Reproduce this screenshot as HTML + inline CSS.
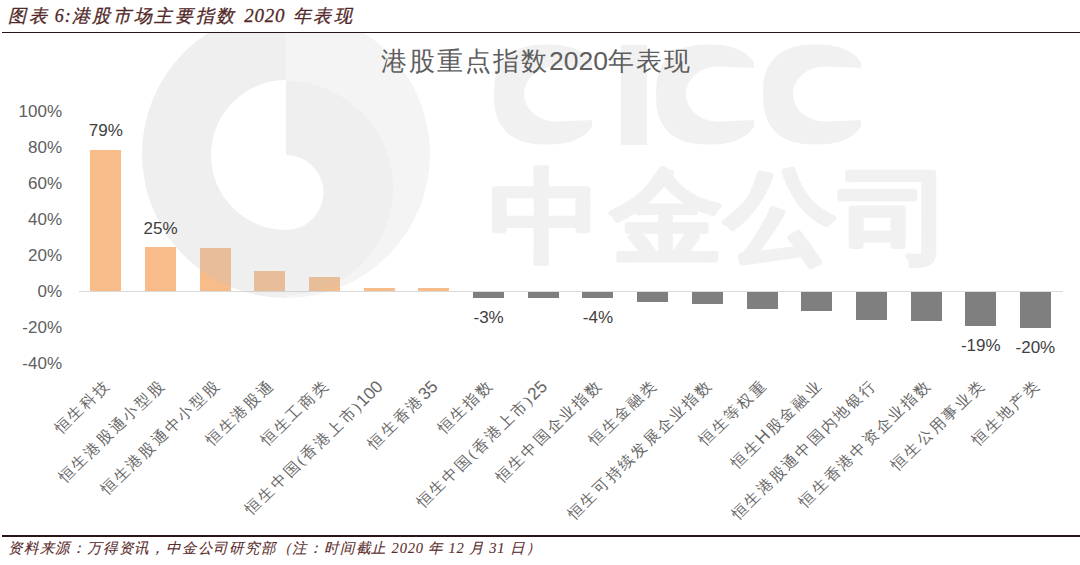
<!DOCTYPE html>
<html><head><meta charset="utf-8"><style>
*{margin:0;padding:0;box-sizing:border-box}
html,body{width:1080px;height:565px;overflow:hidden;background:#fff}
body{position:relative;font-family:"Liberation Sans",sans-serif}
.a{position:absolute;white-space:nowrap}
.ttl{left:8px;top:3px;font-family:"Liberation Serif",serif;font-style:italic;font-weight:400;font-size:18px;line-height:26px;color:#522828;letter-spacing:2.65px;-webkit-text-stroke:0.3px #522828}
.hr{position:absolute;left:2px;right:0;height:1.6px;background:#2a1416}
.ct{left:381px;top:44.4px;font-family:"Liberation Serif",serif;font-size:26px;line-height:34px;color:#5e5e5e;letter-spacing:2px}
.ct span{font-family:"Liberation Sans",sans-serif;font-size:26.5px;letter-spacing:0}
.yl{right:1018px;font-size:17px;line-height:20px;color:#606060;text-align:right}
.bar{position:absolute}
.pos{background:#f7bc8a}
.neg{background:#7f7f7f}
.dl{font-size:17px;line-height:20px;color:#404040;text-align:center;width:60px}
.xl{font-family:"Liberation Serif",serif;font-weight:300;font-size:15.5px;line-height:20px;letter-spacing:2px;color:#666;transform-origin:100% 50%;transform:scaleY(0.96) rotate(-45deg)}
.xl span{font-family:"Liberation Sans",sans-serif;font-size:17.5px;letter-spacing:0;margin-right:2px}
.fn{left:8px;top:537px;font-family:"Liberation Serif",serif;font-style:italic;font-size:14.5px;line-height:22px;color:#5a2c2c;letter-spacing:0.8px;-webkit-text-stroke:0.1px #5a2c2c}
.wm{position:absolute;left:0;top:0;width:1080px;height:565px}
</style></head><body>
<div class="bar" style="left:78.5px;width:984.5px;top:290.7px;height:1.6px;background:#d9d9d9"></div>
<div class="bar pos" style="left:90.34px;width:31px;top:150.02px;height:141.48px"></div>
<div class="bar pos" style="left:145.02px;width:31px;top:247.22px;height:44.28px"></div>
<div class="bar pos" style="left:199.70px;width:31px;top:248.12px;height:43.38px"></div>
<div class="bar pos" style="left:254.38px;width:31px;top:270.98px;height:20.52px"></div>
<div class="bar pos" style="left:309.06px;width:31px;top:277.10px;height:14.40px"></div>
<div class="bar pos" style="left:363.74px;width:31px;top:288.44px;height:3.06px"></div>
<div class="bar pos" style="left:418.42px;width:31px;top:288.44px;height:3.06px"></div>
<div class="bar neg" style="left:473.10px;width:31px;top:292.30px;height:5.64px"></div>
<div class="bar neg" style="left:527.78px;width:31px;top:292.30px;height:5.46px"></div>
<div class="bar neg" style="left:582.46px;width:31px;top:292.30px;height:6.18px"></div>
<div class="bar neg" style="left:637.14px;width:31px;top:292.30px;height:9.96px"></div>
<div class="bar neg" style="left:691.82px;width:31px;top:292.30px;height:11.58px"></div>
<div class="bar neg" style="left:746.50px;width:31px;top:292.30px;height:17.16px"></div>
<div class="bar neg" style="left:801.18px;width:31px;top:292.30px;height:18.24px"></div>
<div class="bar neg" style="left:855.86px;width:31px;top:292.30px;height:28.14px"></div>
<div class="bar neg" style="left:910.54px;width:31px;top:292.30px;height:28.86px"></div>
<div class="bar neg" style="left:965.22px;width:31px;top:292.30px;height:33.72px"></div>
<div class="bar neg" style="left:1019.90px;width:31px;top:292.30px;height:35.52px"></div>
<svg class="wm" width="1080" height="565" viewBox="0 0 1080 565">
<defs><clipPath id="cp"><rect x="0" y="33" width="1080" height="500"/></clipPath>
<mask id="mc" maskUnits="userSpaceOnUse" x="0" y="0" width="1080" height="565"><path d="M600.0 94.5 L599.8 101.6 L599.4 106.8 L598.6 111.5 L597.4 115.7 L596.0 119.6 L594.2 123.2 L592.2 126.6 L589.8 129.6 L587.2 132.4 L584.2 134.9 L581.0 137.1 L577.4 139.1 L573.6 140.7 L569.5 142.1 L565.0 143.1 L560.1 143.9 L554.5 144.3 L547.0 144.5 L539.5 144.3 L533.9 143.9 L529.0 143.1 L524.5 142.1 L520.4 140.7 L516.6 139.1 L513.0 137.1 L509.8 134.9 L506.8 132.4 L504.2 129.6 L501.8 126.6 L499.8 123.2 L498.0 119.6 L496.6 115.7 L495.4 111.5 L494.6 106.8 L494.2 101.6 L494.0 94.5 L494.2 87.4 L494.6 82.2 L495.4 77.5 L496.6 73.3 L498.0 69.4 L499.8 65.8 L501.8 62.4 L504.2 59.4 L506.8 56.6 L509.8 54.1 L513.0 51.9 L516.6 49.9 L520.4 48.3 L524.5 46.9 L529.0 45.9 L533.9 45.1 L539.5 44.7 L547.0 44.5 L554.5 44.7 L560.1 45.1 L565.0 45.9 L569.5 46.9 L573.6 48.3 L577.4 49.9 L581.0 51.9 L584.2 54.1 L587.2 56.6 L589.8 59.4 L592.2 62.4 L594.2 65.8 L596.0 69.4 L597.4 73.3 L598.6 77.5 L599.4 82.2 L599.8 87.4 Z" fill="#fff"/><ellipse cx="556" cy="94" rx="32" ry="27.5" fill="#000"/><path d="M556 66.5 L594 68 L594 120 L556 121.5 Z" fill="#000"/><rect x="592" y="30" width="30" height="130" fill="#000"/><path d="M762.0 94.5 L761.8 101.6 L761.4 106.8 L760.6 111.5 L759.4 115.7 L758.0 119.6 L756.2 123.2 L754.2 126.6 L751.8 129.6 L749.2 132.4 L746.2 134.9 L743.0 137.1 L739.4 139.1 L735.6 140.7 L731.5 142.1 L727.0 143.1 L722.1 143.9 L716.5 144.3 L709.0 144.5 L701.5 144.3 L695.9 143.9 L691.0 143.1 L686.5 142.1 L682.4 140.7 L678.6 139.1 L675.0 137.1 L671.8 134.9 L668.8 132.4 L666.2 129.6 L663.8 126.6 L661.8 123.2 L660.0 119.6 L658.6 115.7 L657.4 111.5 L656.6 106.8 L656.2 101.6 L656.0 94.5 L656.2 87.4 L656.6 82.2 L657.4 77.5 L658.6 73.3 L660.0 69.4 L661.8 65.8 L663.8 62.4 L666.2 59.4 L668.8 56.6 L671.8 54.1 L675.0 51.9 L678.6 49.9 L682.4 48.3 L686.5 46.9 L691.0 45.9 L695.9 45.1 L701.5 44.7 L709.0 44.5 L716.5 44.7 L722.1 45.1 L727.0 45.9 L731.5 46.9 L735.6 48.3 L739.4 49.9 L743.0 51.9 L746.2 54.1 L749.2 56.6 L751.8 59.4 L754.2 62.4 L756.2 65.8 L758.0 69.4 L759.4 73.3 L760.6 77.5 L761.4 82.2 L761.8 87.4 Z" fill="#fff"/><ellipse cx="718" cy="94" rx="32" ry="27.5" fill="#000"/><path d="M718 66.5 L756 68 L756 120 L718 121.5 Z" fill="#000"/><rect x="754" y="30" width="30" height="130" fill="#000"/><path d="M869.0 94.5 L868.8 101.6 L868.4 106.8 L867.6 111.5 L866.4 115.7 L865.0 119.6 L863.2 123.2 L861.2 126.6 L858.8 129.6 L856.2 132.4 L853.2 134.9 L850.0 137.1 L846.4 139.1 L842.6 140.7 L838.5 142.1 L834.0 143.1 L829.1 143.9 L823.5 144.3 L816.0 144.5 L808.5 144.3 L802.9 143.9 L798.0 143.1 L793.5 142.1 L789.4 140.7 L785.6 139.1 L782.0 137.1 L778.8 134.9 L775.8 132.4 L773.2 129.6 L770.8 126.6 L768.8 123.2 L767.0 119.6 L765.6 115.7 L764.4 111.5 L763.6 106.8 L763.2 101.6 L763.0 94.5 L763.2 87.4 L763.6 82.2 L764.4 77.5 L765.6 73.3 L767.0 69.4 L768.8 65.8 L770.8 62.4 L773.2 59.4 L775.8 56.6 L778.8 54.1 L782.0 51.9 L785.6 49.9 L789.4 48.3 L793.5 46.9 L798.0 45.9 L802.9 45.1 L808.5 44.7 L816.0 44.5 L823.5 44.7 L829.1 45.1 L834.0 45.9 L838.5 46.9 L842.6 48.3 L846.4 49.9 L850.0 51.9 L853.2 54.1 L856.2 56.6 L858.8 59.4 L861.2 62.4 L863.2 65.8 L865.0 69.4 L866.4 73.3 L867.6 77.5 L868.4 82.2 L868.8 87.4 Z" fill="#fff"/><ellipse cx="825" cy="94" rx="32" ry="27.5" fill="#000"/><path d="M825 66.5 L863 68 L863 120 L825 121.5 Z" fill="#000"/><rect x="861" y="30" width="30" height="130" fill="#000"/><rect x="621" y="45" width="26" height="100" fill="#fff"/></mask></defs>
<g clip-path="url(#cp)" fill="rgb(200,200,200)">
<path opacity="0.2" fill-rule="evenodd" d="M286 10 A144 144 0 1 1 286 298 A144 144 0 1 1 286 10 Z M286 80 A75 75 0 0 0 286 230 A37.5 37.5 0 0 0 286 155 Z"/>
<path opacity="0.1" d="M286 10 A144 144 0 0 0 286 298 L286 230 A75 75 0 0 1 286 80 Z"/>
<path opacity="0.1" d="M286 81 A107 107 0 0 1 286 295 L286 230 A37.5 37.5 0 0 0 286 155 Z"/>
<rect opacity="0.24" x="480" y="35" width="400" height="125" mask="url(#mc)"/>
<g opacity="0.24" font-family="Liberation Sans" font-weight="bold" font-size="102" stroke="rgb(200,200,200)" stroke-width="3" stroke-linejoin="round"><text transform="translate(546 252.4) scale(1.11 1)" text-anchor="middle">中</text><text transform="translate(666.5 252.4) scale(1.11 1)" text-anchor="middle">金</text><text transform="translate(780.5 252.4) scale(1.11 1)" text-anchor="middle">公</text><text transform="translate(895.5 252.4) scale(1.11 1)" text-anchor="middle">司</text></g>
</g></svg>
<div class="a ttl">图表<span style="letter-spacing:1px"> 6:</span>港股市场主要指数 <span style="letter-spacing:0.8px;font-size:19px">2020</span> 年表现</div>
<div class="hr" style="top:31.7px"></div>
<div class="a ct">港股重点指数<span>2020</span>年表现</div>
<div class="a yl" style="top:102px">100%</div>
<div class="a yl" style="top:138px">80%</div>
<div class="a yl" style="top:174px">60%</div>
<div class="a yl" style="top:210px">40%</div>
<div class="a yl" style="top:246px">20%</div>
<div class="a yl" style="top:282px">0%</div>
<div class="a yl" style="top:318px">-20%</div>
<div class="a yl" style="top:354px">-40%</div>
<div class="a dl" style="left:75.84px;top:121.42px">79%</div>
<div class="a dl" style="left:130.52px;top:218.62px">25%</div>
<div class="a dl" style="left:458.60px;top:307.94px">-3%</div>
<div class="a dl" style="left:567.96px;top:308.48px">-4%</div>
<div class="a dl" style="left:950.72px;top:336.02px">-19%</div>
<div class="a dl" style="left:1005.40px;top:337.82px">-20%</div>
<div class="a xl" style="right:971.66px;top:371.5px">恒生科技</div>
<div class="a xl" style="right:916.98px;top:371.5px">恒生港股通小型股</div>
<div class="a xl" style="right:862.30px;top:371.5px">恒生港股通中小型股</div>
<div class="a xl" style="right:807.62px;top:371.5px">恒生港股通</div>
<div class="a xl" style="right:752.94px;top:371.5px">恒生工商类</div>
<div class="a xl" style="right:698.26px;top:371.5px">恒生中国(香港上市)<span>100</span></div>
<div class="a xl" style="right:643.58px;top:371.5px">恒生香港<span>35</span></div>
<div class="a xl" style="right:588.90px;top:371.5px">恒生指数</div>
<div class="a xl" style="right:534.22px;top:371.5px">恒生中国(香港上市)<span>25</span></div>
<div class="a xl" style="right:479.54px;top:371.5px">恒生中国企业指数</div>
<div class="a xl" style="right:424.86px;top:371.5px">恒生金融类</div>
<div class="a xl" style="right:370.18px;top:371.5px">恒生可持续发展企业指数</div>
<div class="a xl" style="right:315.50px;top:371.5px">恒生等权重</div>
<div class="a xl" style="right:260.82px;top:371.5px">恒生<span>H</span>股金融业</div>
<div class="a xl" style="right:206.14px;top:371.5px">恒生港股通中国内地银行</div>
<div class="a xl" style="right:151.46px;top:371.5px">恒生香港中资企业指数</div>
<div class="a xl" style="right:96.78px;top:371.5px">恒生公用事业类</div>
<div class="a xl" style="right:42.10px;top:371.5px">恒生地产类</div>
<div class="hr" style="top:535px"></div>
<div class="a fn">资料来源：万得资讯，中金公司研究部（注：时间截止 2020 年 12 月 31 日）</div>
</body></html>
